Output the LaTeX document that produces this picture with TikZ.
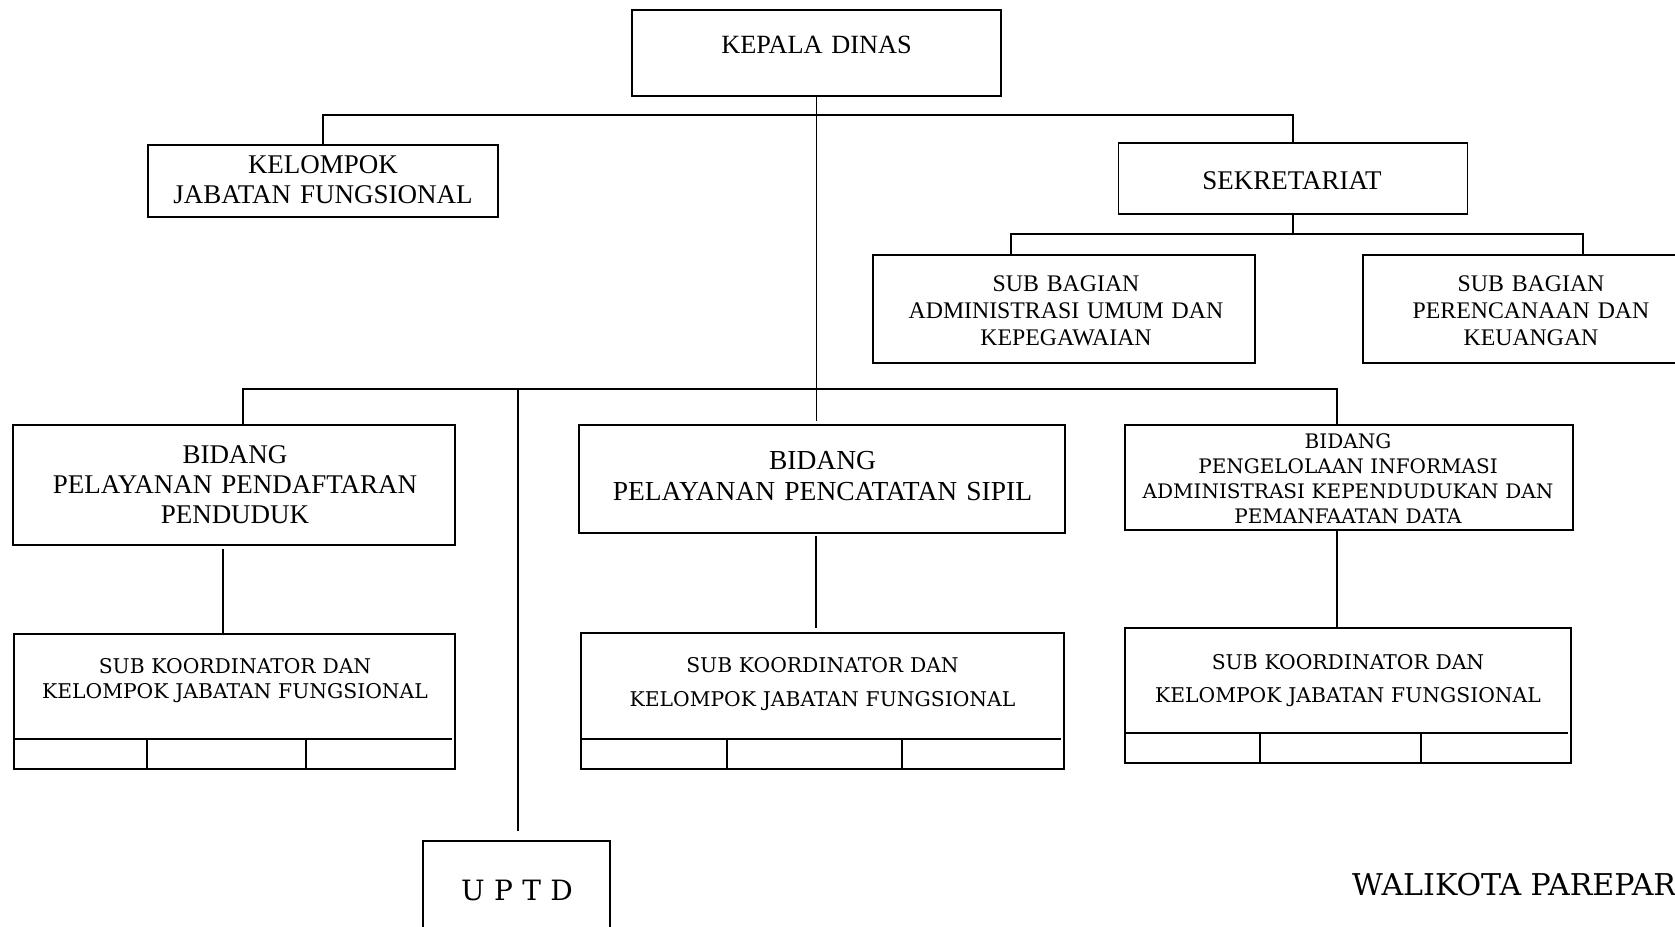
\documentclass[tikz,border=0pt]{standalone}
\usepackage{fontspec}
\setmainfont{Liberation Serif}
\newfontfamily\bkfont{DejaVu Serif}
\begin{document}
\begin{tikzpicture}[x=1pt,y=-1pt,
  box/.style={draw, line width=1.8pt, inner sep=0pt, outer sep=0pt},
  skbox/.style={draw, line width=1.4pt, inner sep=0pt, outer sep=0pt},
  conn/.style={line width=1.5pt},
  skline/.style={line width=1.5pt},
  txt/.style={anchor=base, align=center, inner sep=0pt},
  fK/.style={font=\fontsize{26.3pt}{30pt}\selectfont},
  fA/.style={font=\fontsize{27pt}{30pt}\selectfont},
  fB/.style={font=\fontsize{23.8pt}{27.2pt}\selectfont},
  fC/.style={font=\fontsize{27.5pt}{31pt}\selectfont},
  fD/.style={font=\bkfont\fontsize{20pt}{25.3pt}\selectfont},
  fE/.style={font=\bkfont\fontsize{20.3pt}{25pt}\selectfont},
  fF/.style={font=\bkfont\fontsize{20.3pt}{34pt}\selectfont},
  fF3/.style={font=\bkfont\fontsize{20.3pt}{33pt}\selectfont},
  fG/.style={font=\bkfont\fontsize{28pt}{30pt}\selectfont},
  fH/.style={font=\bkfont\fontsize{30pt}{32pt}\selectfont}
]
\useasboundingbox (0,0) rectangle (1675,926);
\clip (0,0) rectangle (1675,926);

% boxes
\node[box, minimum width=369pt, minimum height=86pt] (kepala) at (816.5,53) {};
\node[box, minimum width=350pt, minimum height=72pt] (kelompok) at (323,181) {};
\node[box, minimum width=349pt, minimum height=71pt] (sek) at (1293,178.5) {};
\node[box, minimum width=382pt, minimum height=108pt] (subadm) at (1064,309) {};
\node[box, minimum width=334pt, minimum height=108pt] (subren) at (1530,309) {};
\node[box, minimum width=442pt, minimum height=120pt] (bidang1) at (234,485) {};
\node[box, minimum width=486pt, minimum height=108pt] (bidang2) at (822,479) {};
\node[box, minimum width=448pt, minimum height=105pt] (bidang3) at (1349,477.5) {};
\node[skbox, minimum width=441pt, minimum height=135pt] (sk1) at (234.5,701.5) {};
\node[skbox, minimum width=483pt, minimum height=136pt] (sk2) at (822.5,701) {};
\node[skbox, minimum width=446pt, minimum height=135pt] (sk3) at (1348,695.5) {};
\node[skbox, minimum width=187pt, minimum height=119pt] (uptd) at (516.5,900.5) {};

% texts
\node[txt, fK, text width=340pt] (kepalaT) at (816.5,53) {KEPALA DINAS};
\node[txt, fA, text width=340pt] (kelompokT) at (323,173) {KELOMPOK\\JABATAN FUNGSIONAL};
\node[txt, fA, text width=330pt] (sekT) at (1292,189) {SEKRETARIAT};
\node[txt, fB, text width=370pt] (subadmT) at (1066,291.5) {SUB BAGIAN\\ADMINISTRASI UMUM DAN\\KEPEGAWAIAN};
\node[txt, fB, text width=250pt] (subrenT) at (1531,291.5) {SUB BAGIAN\\PERENCANAAN DAN\\KEUANGAN};
\node[txt, fA, text width=430pt] (bidang1T) at (235,463) {BIDANG\\PELAYANAN PENDAFTARAN\\PENDUDUK};
\node[txt, fC, text width=470pt] (bidang2T) at (822.5,469) {BIDANG\\PELAYANAN PENCATATAN SIPIL};
\node[txt, fD, text width=440pt] (bidang3T) at (1348,448) {BIDANG\\PENGELOLAAN INFORMASI\\ADMINISTRASI KEPENDUDUKAN DAN\\PEMANFAATAN DATA};
\node[txt, fE, text width=430pt] (sk1T) at (235,673) {SUB KOORDINATOR DAN\\KELOMPOK JABATAN FUNGSIONAL};
\node[txt, fF, text width=470pt] (sk2T) at (822.5,672) {SUB KOORDINATOR DAN\\KELOMPOK JABATAN FUNGSIONAL};
\node[txt, fF3, text width=440pt] (sk3T) at (1348,669) {SUB KOORDINATOR DAN\\KELOMPOK JABATAN FUNGSIONAL};
\node[txt, fG, text width=180pt] (uptdT) at (517,900) {U P T D};
\node[anchor=base west, inner sep=0pt, fH] (wali) at (1352,895) {WALIKOTA PAREPARE};

% bus coordinates
\coordinate (b1) at (816,115);
\coordinate (j2l) at (1011,234);
\coordinate (j2r) at (1583,234);
\coordinate (j3l) at (243,389);
\coordinate (j3r) at (1337,389);
\coordinate (j3u) at (518,389);

% connectors
\draw[conn, shorten >=4pt] (kepala.south) -- (kepala.south |- bidang2.north);
\draw[conn] (kelompok.north) |- (b1) -| (sek.north);
\draw[conn] (sek.south) -- (sek.south |- j2l);
\draw[conn] (j2l |- subadm.north) -- (j2l) -- (j2r) -- (j2r |- subren.north);
\draw[conn] (j3l |- bidang1.north) -- (j3l) -- (j3r) -- (j3r |- bidang3.north);
\draw[conn, shorten >=10pt] (j3u) -- (j3u |- uptd.north);
\draw[conn, shorten <=4pt] ([xshift=-11pt]bidang1.south) -- ([xshift=-11pt]bidang1.south |- sk1.north);
\draw[conn, shorten <=3pt, shorten >=5pt] ([xshift=-6pt]bidang2.south) -- ([xshift=-6pt]bidang2.south |- sk2.north);
\draw[conn] ([xshift=-12pt]bidang3.south) -- ([xshift=-12pt]bidang3.south |- sk3.north);

% sub koordinator dividers
\draw[skline] (14,739) -- (452,739);
\draw[skline] (147,739) -- (147,769);
\draw[skline] (306,739) -- (306,769);
\draw[skline] (581,739) -- (1061,739);
\draw[skline] (727,739) -- (727,769);
\draw[skline] (902,739) -- (902,769);
\draw[skline] (1125,733) -- (1568,733);
\draw[skline] (1260,733) -- (1260,763);
\draw[skline] (1421,733) -- (1421,763);
\end{tikzpicture}
\end{document}
